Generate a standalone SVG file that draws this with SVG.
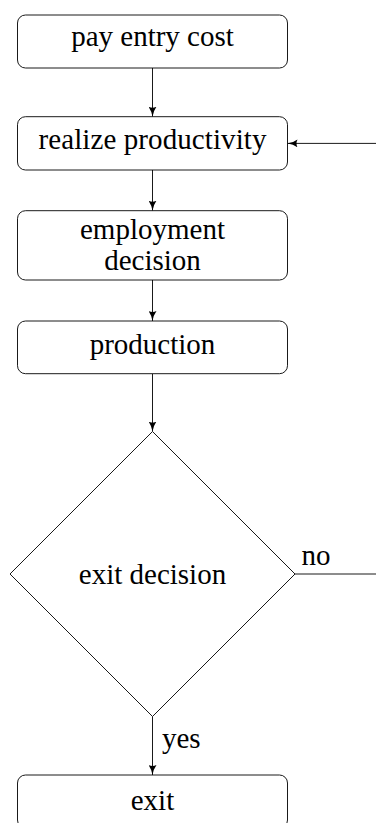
<svg xmlns="http://www.w3.org/2000/svg" width="376" height="823" viewBox="0 0 376 823">
<style>
.box{fill:#fff;stroke:#000;stroke-width:0.9}
.t{font-family:'Liberation Serif','DejaVu Serif',serif;font-size:29px;fill:#000;text-anchor:middle}
.l{font-family:'Liberation Serif','DejaVu Serif',serif;font-size:29px;fill:#000}
.c{fill:none;stroke:#000;stroke-width:0.9}
</style>
<defs>
<marker id="ah" viewBox="0 0 10 8" refX="10" refY="4" markerWidth="10" markerHeight="8" markerUnits="userSpaceOnUse" orient="auto">
<path d="M0,0 Q4,3 10,4 Q4,5 0,8 Q2,4 0,0 Z" fill="#000"/>
</marker>
</defs>
<rect width="376" height="823" fill="#fff"/>
<g id="connectors">
<line class="c" x1="152.5" y1="68" x2="152.5" y2="116.7" marker-end="url(#ah)"/>
<line class="c" x1="152.5" y1="170" x2="152.5" y2="210.7" marker-end="url(#ah)"/>
<line class="c" x1="152.5" y1="280" x2="152.5" y2="321" marker-end="url(#ah)"/>
<line class="c" x1="152.5" y1="373.7" x2="152.5" y2="431.5" marker-end="url(#ah)"/>
<line class="c" x1="152.5" y1="716.5" x2="152.5" y2="775" marker-end="url(#ah)"/>
<polyline class="c" points="295,574 380,574"/>
<line class="c" x1="380" y1="143.4" x2="287.5" y2="143.4" marker-end="url(#ah)"/>
<text class="l" x="301.5" y="565">no</text>
<text class="l" x="162" y="748">yes</text>
</g>
<g id="pay">
<rect class="box" x="17.5" y="15" width="270" height="53" rx="8"/>
<text class="t" x="152.5" y="46">pay entry cost</text>
</g>
<g id="realize">
<rect class="box" x="17.5" y="116.7" width="270" height="53.3" rx="8"/>
<text class="t" x="152.5" y="148.5" textLength="228">realize productivity</text>
</g>
<g id="employment">
<rect class="box" x="17.5" y="210.7" width="270" height="69.3" rx="8"/>
<text class="t" x="152.5" y="238.5">employment</text>
<text class="t" x="152.5" y="270">decision</text>
</g>
<g id="production">
<rect class="box" x="17.5" y="321" width="270" height="52.7" rx="8"/>
<text class="t" x="152.5" y="353.5">production</text>
</g>
<g id="exitdecision">
<polygon class="box" points="152.5,431.5 295,574 152.5,716.5 10,574"/>
<text class="t" x="152.5" y="583.5">exit decision</text>
</g>
<g id="exit">
<rect class="box" x="17.5" y="775" width="270" height="53" rx="8"/>
<text class="t" x="152.5" y="810">exit</text>
</g>
</svg>
